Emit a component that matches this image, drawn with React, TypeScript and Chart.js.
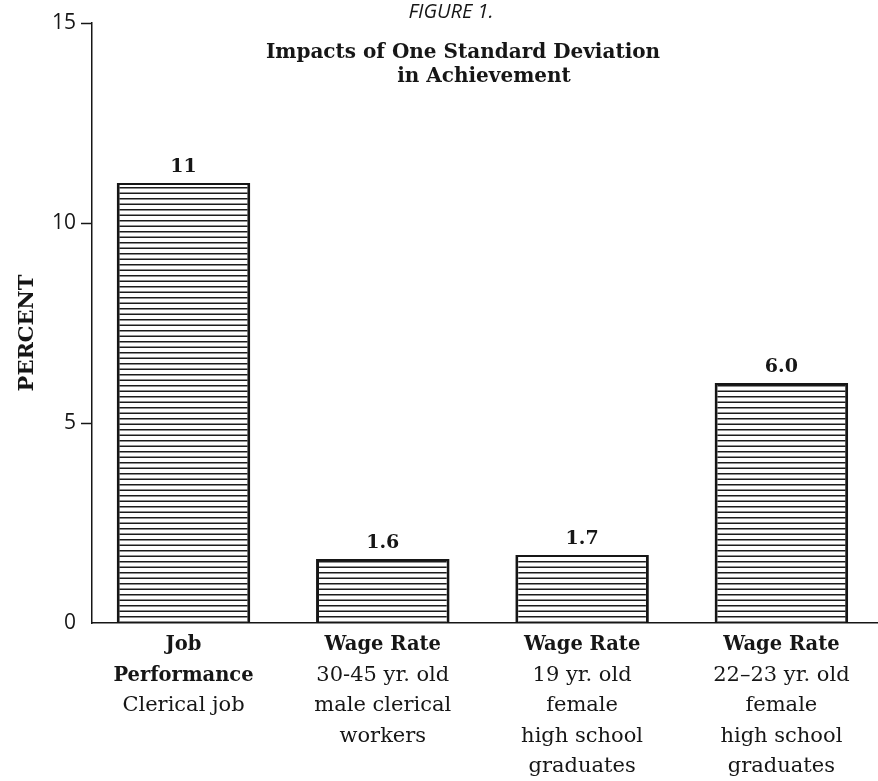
import React, { useEffect, useRef } from 'react';
import { Chart, registerables } from 'chart.js';

Chart.register(...registerables);

// ---- data ----
const categoryPositions = [0, 1, 2, 3];
const categoryHeads = [['Job', 'Performance'], ['Wage Rate'], ['Wage Rate'], ['Wage Rate']];
const categoryDetails = [
  ['Clerical job'],
  ['30-45 yr. old', 'male clerical', 'workers'],
  ['19 yr. old', 'female', 'high school', 'graduates'],
  ['22–23 yr. old', 'female', 'high school', 'graduates'],
];
const percentValues = [11, 1.6, 1.7, 6.0];
const valueLabels = ['11', '1.6', '1.7', '6.0'];
const yTickValues = [0, 5, 10, 15];
const figureLabel = 'FIGURE 1.';
const titleLines = ['Impacts of One Standard Deviation', 'in Achievement'];
const yAxisTitle = 'PERCENT';

const INK = '#161616';
const SERIF = '"DejaVu Serif", serif';

function makeHatch(): CanvasPattern | string {
  const c = document.createElement('canvas');
  c.width = 8;
  c.height = 11;
  const g = c.getContext('2d');
  if (!g) return '#fff';
  g.fillStyle = '#ffffff';
  g.fillRect(0, 0, 8, 11);
  g.fillStyle = '#1c1c1c';
  g.fillRect(0, 0, 8, 1.5);
  g.fillRect(0, 5.5, 8, 1.5);
  const p = g.createPattern(c, 'repeat');
  return p || '#fff';
}

const textPlugin = {
  id: 'figureText',
  afterDraw(chart: any) {
    const ctx = chart.ctx as CanvasRenderingContext2D;
    const xs = chart.scales.x;
    const area = chart.chartArea;
    ctx.save();
    ctx.fillStyle = INK;
    ctx.textAlign = 'center';
    ctx.textBaseline = 'alphabetic';

    ctx.font = 'italic 20px "Open Sans", sans-serif';
    ctx.fillText(figureLabel, 451, 18);

    ctx.font = `bold 20px ${SERIF}`;
    ctx.fillText(titleLines[0], 463, 58);
    ctx.fillText(titleLines[1], 484, 82);

    ctx.save();
    ctx.translate(28, 333);
    ctx.rotate(-Math.PI / 2);
    ctx.font = `bold 21px ${SERIF}`;
    ctx.textBaseline = 'middle';
    ctx.fillText(yAxisTitle, 0, 0);
    ctx.restore();

    const meta = chart.getDatasetMeta(0);
    ctx.font = `bold 19px ${SERIF}`;
    meta.data.forEach((bar: any, i: number) => {
      ctx.fillText(valueLabels[i], bar.x, bar.y - 11);
    });

    categoryPositions.forEach((p, i) => {
      const x = xs.getPixelForValue(p);
      let line = 0;
      ctx.font = `bold 19.5px ${SERIF}`;
      categoryHeads[i].forEach((t) => {
        ctx.fillText(t, x, area.bottom + 27 + 30.5 * line);
        line++;
      });
      ctx.font = `21px ${SERIF}`;
      categoryDetails[i].forEach((t) => {
        ctx.fillText(t, x, area.bottom + 27 + 30.5 * line);
        line++;
      });
    });
    ctx.restore();
  },
};

export default function App() {
  const ref = useRef<HTMLCanvasElement | null>(null);

  useEffect(() => {
    document.body.style.margin = '0';
    document.body.style.background = '#ffffff';
    const canvas = ref.current;
    if (!canvas) return;
    const hatch = makeHatch();
    const chart = new Chart(canvas, {
      type: 'bar',
      data: {
        datasets: [
          {
            data: categoryPositions.map((x, i) => ({ x, y: percentValues[i] })),
            backgroundColor: hatch as any,
            borderColor: INK,
            borderWidth: { left: 3, right: 3, top: 2, bottom: 0 } as any,
            borderSkipped: 'start',
            categoryPercentage: 1,
            barPercentage: 0.67,
          },
        ],
      },
      options: {
        animation: false,
        responsive: false,
        devicePixelRatio: 1,
        layout: { padding: { top: 23, right: 0, left: 0, bottom: 0 } },
        plugins: {
          legend: { display: false },
          tooltip: { enabled: false },
          title: { display: false },
        },
        scales: {
          x: {
            type: 'linear',
            min: -0.4591,
            max: 3.4847,
            offset: false,
            afterBuildTicks: (s: any) => {
              s.ticks = categoryPositions.map((v) => ({ value: v }));
            },
            afterFit: (s: any) => {
              s.height = 158;
            },
            ticks: { display: false },
            grid: { display: false },
            border: { display: true, color: INK, width: 1.5 },
          },
          y: {
            type: 'linear',
            min: 0,
            max: 15,
            afterBuildTicks: (s: any) => {
              s.ticks = yTickValues.map((v) => ({ value: v }));
            },
            afterFit: (s: any) => {
              s.width = 92;
            },
            ticks: {
              color: INK,
              padding: 5,
              font: { family: '"Open Sans", sans-serif', size: 21 },
            },
            grid: {
              display: true,
              drawOnChartArea: false,
              drawTicks: true,
              tickLength: 11,
              tickWidth: 1.5,
              tickColor: (c: any) => (c.tick && c.tick.value === 0 ? 'rgba(0,0,0,0)' : INK),
            },
            border: { display: true, color: INK, width: 1.5 },
          },
        },
      },
      plugins: [textPlugin],
    });
    return () => chart.destroy();
  }, []);

  return <canvas ref={ref} width={878} height={781} style={{ display: 'block' }} />;
}
